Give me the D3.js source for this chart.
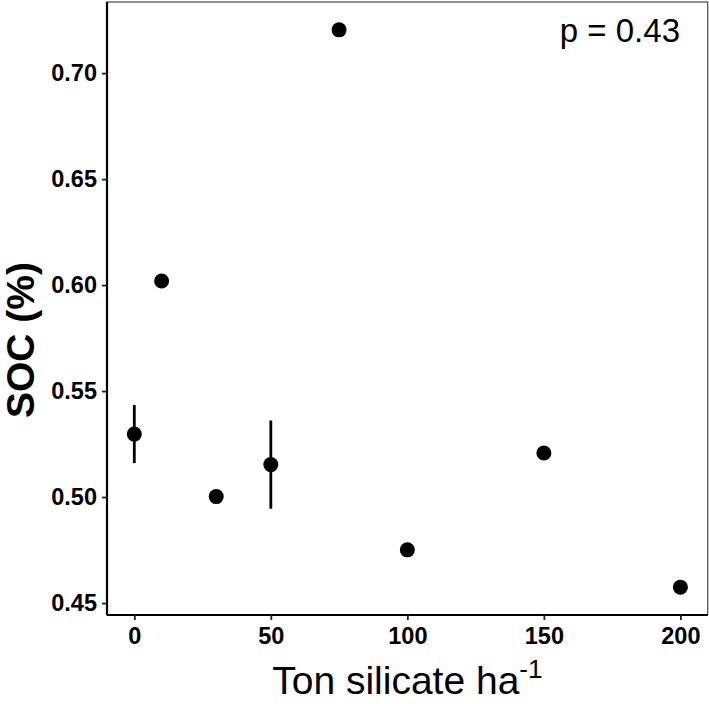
<!DOCTYPE html>
<html>
<head>
<meta charset="utf-8">
<script src="https://cdn.jsdelivr.net/npm/d3@7"></script>
<style>
  html, body { margin: 0; padding: 0; background: #fff; }
  svg { display: block; font-family: "Liberation Sans", Arial, sans-serif; }
</style>
</head>
<body>
<svg id="chart" width="709" height="704"></svg>
<script>
// ---- data ----
const rates = [0, 10, 30, 50, 75, 100, 150, 200];          // Ton silicate ha-1
const soc   = [0.5297, 0.6019, 0.5002, 0.5153, 0.7204, 0.4751, 0.5208, 0.4575]; // SOC (%)
const se    = [0.0137, 0, 0, 0.0208, 0, 0, 0, 0];          // error bar half-length
const xTicks = [0, 50, 100, 150, 200];
const yTicks = [0.45, 0.50, 0.55, 0.60, 0.65, 0.70];
const pLabel = "p = 0.43";

(function () {
const svg = d3.select("#chart");
const pLeft = 107, pRight = 707.7, pTop = 2, pBottom = 615;

const x = d3.scaleLinear().domain([-10, 210]).range([pLeft, pRight]);
const lo = d3.min(soc.map((v, i) => v - se[i]));
const hi = d3.max(soc.map((v, i) => v + se[i]));
const pad = (hi - lo) * 0.05;
const y = d3.scaleLinear().domain([lo - pad, hi + pad]).range([pBottom, pTop]);

// panel border
svg.append("rect")
  .attr("x", pLeft).attr("y", pTop)
  .attr("width", pRight - pLeft).attr("height", pBottom - pTop)
  .attr("fill", "none").attr("stroke", "#555").attr("stroke-width", 1.3);

// axes
const xAxis = d3.axisBottom(x).tickValues(xTicks).tickSize(5).tickPadding(7).tickFormat(d3.format("d"));
const yAxis = d3.axisLeft(y).tickValues(yTicks).tickSize(5).tickPadding(5).tickFormat(d3.format(".2f"));

const gx = svg.append("g").attr("transform", `translate(0,${pBottom})`).call(xAxis);
const gy = svg.append("g").attr("transform", `translate(${pLeft},0)`).call(yAxis);

[gx, gy].forEach(g => {
  g.select(".domain").attr("stroke", "#000").attr("stroke-width", 2.2);
  g.selectAll(".tick line").attr("stroke", "#222").attr("stroke-width", 1.8);
  g.selectAll(".tick text")
    .attr("fill", "#000")
    .style("font-family", "'Liberation Sans', Arial, sans-serif")
    .style("font-size", "23.5px")
    .style("font-weight", "bold");
});
gx.select(".domain").attr("d", `M${pLeft},0H${pRight}`);
gy.select(".domain").attr("d", `M0,${pBottom}V${pTop}`);

// error bars
const pts = rates.map((r, i) => ({ r, v: soc[i], e: se[i] }));
svg.append("g").selectAll("line")
  .data(pts.filter(d => d.e > 0))
  .join("line")
  .attr("x1", d => x(d.r)).attr("x2", d => x(d.r))
  .attr("y1", d => y(d.v - d.e)).attr("y2", d => y(d.v + d.e))
  .attr("stroke", "#000").attr("stroke-width", 2.8);

// points
svg.append("g").selectAll("circle")
  .data(pts)
  .join("circle")
  .attr("cx", d => x(d.r)).attr("cy", d => y(d.v))
  .attr("r", 7.5).attr("fill", "#000");

// p label
svg.append("text")
  .attr("x", 680).attr("y", 42)
  .attr("text-anchor", "end")
  .style("font-size", "33px")
  .attr("fill", "#000")
  .text(pLabel);

// x title
const xt = svg.append("text")
  .attr("x", (pLeft + pRight) / 2).attr("y", 694)
  .attr("text-anchor", "middle")
  .style("font-size", "39px")
  .attr("fill", "#000");
xt.append("tspan").text("Ton silicate ha");
xt.append("tspan").attr("dy", -16).style("font-size", "26px").text("-1");

// y title
svg.append("text")
  .attr("transform", `translate(34,340) rotate(-90)`)
  .attr("text-anchor", "middle")
  .style("font-size", "39px")
  .style("font-weight", "bold")
  .attr("fill", "#000")
  .text("SOC (%)");
})();
</script>
</body>
</html>
